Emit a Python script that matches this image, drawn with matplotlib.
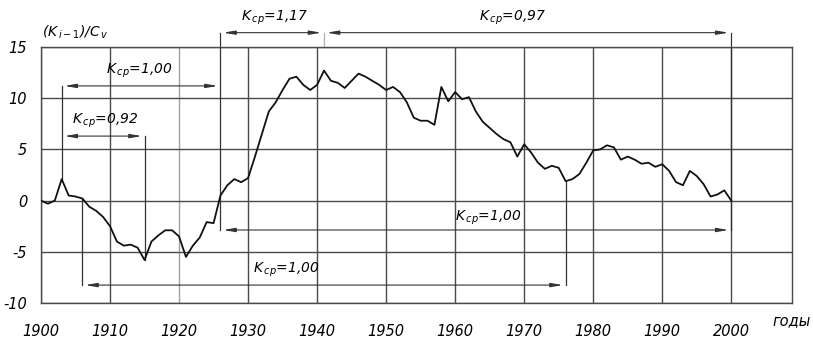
import matplotlib
matplotlib.use("Agg")
import matplotlib.pyplot as plt
import numpy as np

# yearly values of (K-1)/Cv
years = np.arange(1900, 2001)
values = [0.0, -0.3, 0.0, 2.1, 0.5, 0.4, 0.2, -0.6, -1.0, -1.6,
          -2.5, -4.0, -4.4, -4.3, -4.6, -5.8, -4.0, -3.4, -2.9, -2.9,
          -3.5, -5.5, -4.4, -3.6, -2.1, -2.2, 0.5, 1.5, 2.1, 1.8,
          2.2, 4.3, 6.5, 8.7, 9.6, 10.8, 11.9, 12.1, 11.3, 10.8,
          11.3, 12.7, 11.7, 11.5, 11.0, 11.7, 12.4, 12.1, 11.7, 11.3,
          10.8, 11.1, 10.6, 9.6, 8.1, 7.8, 7.8, 7.4, 11.1, 9.7,
          10.6, 9.9, 10.1, 8.7, 7.7, 7.1, 6.5, 6.0, 5.7, 4.3,
          5.5, 4.7, 3.7, 3.1, 3.4, 3.2, 1.9, 2.1, 2.6, 3.7,
          4.9, 5.0, 5.4, 5.2, 4.0, 4.3, 4.0, 3.6, 3.7, 3.3,
          3.55, 2.9, 1.8, 1.5, 2.9, 2.4, 1.6, 0.4, 0.6, 1.0, 0.0]

xticks = list(range(1900, 2001, 10))
yticks = [-10, -5, 0, 5, 10, 15]

# averaging intervals: (start, end, level of dimension line, label)
intervals = [
    (1926, 1941, 16.4, "1,17"),
    (1941, 2000, 16.4, "0,97"),
    (1903, 1926, 11.2, "1,00"),
    (1903, 1915, 6.3, "0,92"),
    (1906, 1976, -8.25, "1,00"),
    (1926, 2000, -2.87, "1,00"),
]
label_pos = [(1933.8, 17.8), (1968.3, 17.8), (1914.3, 12.65),
             (1909.3, 7.8), (1935.5, -6.8), (1964.8, -1.7)]

# extension lines (x, y from, y to)
ext_lines = [(1903, 11.2, 2.1), (1915, 6.3, -5.8), (1926, 16.4, -2.87),
             (2000, 16.4, -2.87), (1906, -8.25, 0.2), (1976, -8.25, 1.9)]

plt.rcParams["font.family"] = ["DejaVu Sans"]

fig = plt.figure(figsize=(8.13, 3.40), dpi=100)
ax = fig.add_axes([41 / 813, 37 / 340, 751 / 813, 256 / 340])

gc = "#4a4a4a"
ax.plot(years, values, color="#111111", lw=1.3, zorder=3)

ax.set_xlim(1900, 2008.8)
ax.set_ylim(-10, 15)
ax.set_xticks(xticks)
ax.set_yticks(yticks)
ax.set_xticklabels([str(t) for t in xticks], fontsize=10.5, style="italic")
ax.set_yticklabels([str(t) for t in yticks], fontsize=10.5, style="italic")
ax.tick_params(axis="x", length=0, pad=15)
ax.tick_params(axis="y", length=0, pad=10)
ax.grid(True, color=gc, lw=1.0)
ax.xaxis.get_gridlines()[2].set_color("#a0a0a0")
for s in ax.spines.values():
    s.set_color(gc)
    s.set_linewidth(1.0)

for x, y0, y1 in ext_lines:
    ax.plot([x, x], [y0, y1], color="#333333", lw=0.9, clip_on=False, zorder=2)
ax.plot([1941, 1941], [16.4, 15], color="#b0b0b0", lw=0.9, clip_on=False)

for (x0, x1, y, lab), (tx, ty) in zip(intervals, label_pos):
    ax.annotate("", xy=(x0, y), xytext=(x1, y),
                arrowprops=dict(arrowstyle="<|-|>,head_length=0.7,head_width=0.12",
                                color="#333333", lw=0.8, shrinkA=2, shrinkB=2,
                                mutation_scale=10),
                annotation_clip=False)
    ax.text(tx, ty, "K$_{\\,cp}$=" + lab, fontsize=10, style="italic",
            ha="center", va="center", clip_on=False)

ax.text(1900.2, 16.4, "(K$_{\\,i-1}$)/C$_{\\,v}$", fontsize=10, style="italic",
        ha="left", va="center", clip_on=False)
fig.text(772 / 813, 1 - 321 / 340, "годы", fontsize=10.5, style="italic",
         ha="left", va="center")

fig.savefig("out.png", dpi=100)
